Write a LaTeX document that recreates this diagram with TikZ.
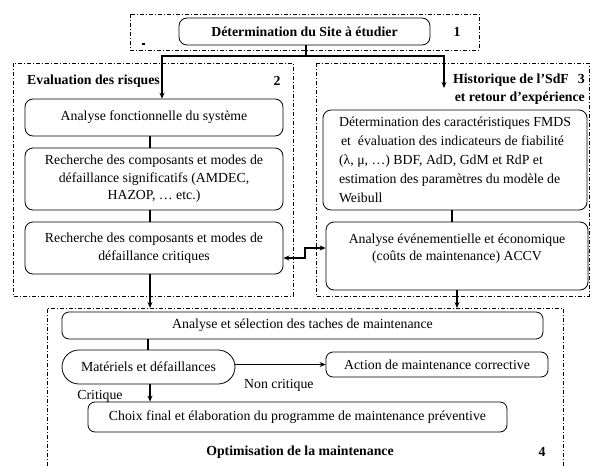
\documentclass[tikz,border=0pt]{standalone}
\usepackage{fontspec}
\setmainfont{Liberation Serif}
\usetikzlibrary{arrows.meta,calc}
\begin{document}
\begin{tikzpicture}[x=1pt,y=-1pt,
  every node/.style={font=\fontsize{13.8}{17.5}\selectfont, inner sep=0pt},
  box/.style={draw, line width=0.8pt, rounded corners=8pt, align=center},
  zone/.style={line width=0.8pt, dash pattern=on 4pt off 2pt on 1pt off 2pt},
  conn/.style={line width=1.2pt},
  arr/.style={conn, -{Stealth[length=6pt,width=5pt]}},
  darr/.style={conn, {Stealth[length=6pt,width=5pt]}-{Stealth[length=6pt,width=5pt]}},
  lbl/.style={font=\bfseries\fontsize{13.8}{17.5}\selectfont}]
\useasboundingbox (0,0) rectangle (592,466);

% zones
\draw[zone] (130,14) rectangle (479,50);
\draw[zone] (13,63) rectangle (293,296);
\draw[zone] (316,63) rectangle (589,296);
\draw[zone] (47,466) -- (47,308) -- (563,308) -- (563,466);

% zone 1
\node[box, lbl, minimum width=251pt, minimum height=27pt] (T) at (304.5,31.5) {Détermination du Site à étudier};
\node[lbl] (n1) at (457,32) {1};
\fill (142,43) rectangle (145,44.5);

% zone 2
\node[lbl, anchor=west] (t2) at (27,81) {Evaluation des risques};
\node[lbl] (n2) at (277,81) {2};
\node[box, minimum width=258pt, minimum height=37pt] (L1) at (154,117.5) {Analyse fonctionnelle du système};
\node[box, minimum width=258pt, minimum height=62pt] (L2) at (154,179) {Recherche des composants et modes de\\défaillance significatifs (AMDEC,\\HAZOP, … etc.)};
\node[box, minimum width=258pt, minimum height=52pt] (L3) at (154,248) {Recherche des composants et modes de\\défaillance critiques};

% zone 3
\node[lbl, anchor=east] (t3a) at (585,80) {Historique de l’SdF\hspace{9pt}3};
\node[lbl, anchor=east] (t3b) at (585,98) {et retour d’expérience};
\node[box, align=left, font=\fontsize{13.8}{19}\selectfont, minimum width=264pt, minimum height=100pt] (R1) at (455,160) {Détermination des caractéristiques FMDS\\\hspace{2pt}et\ \ évaluation des indicateurs de fiabilité\\(λ, μ, …) BDF, AdD, GdM et RdP et\\estimation des paramètres du modèle de\\Weibull};
\node[box, minimum width=262pt, minimum height=68pt] (R2) at (457,256) {};
\node[align=center] (R2t) at (457,248.5) {Analyse événementielle et économique\\(coûts de maintenance) ACCV};

% zone 4
\node[box, rounded corners=7pt, minimum width=481pt, minimum height=27pt] (A1) at (302.5,325.5) {Analyse et sélection des taches de maintenance};
\node[box, rounded corners=17pt, minimum width=173pt, minimum height=34pt] (M) at (148.5,367) {Matériels et défaillances};
\node[box, rounded corners=7pt, minimum width=222pt, minimum height=25pt] (AC) at (437,364.5) {Action de maintenance corrective};
\node[anchor=west] (nc) at (244,385) {Non critique};
\node[box, rounded corners=7pt, minimum width=419pt, minimum height=30pt] (C) at (297.5,417) {Choix final et élaboration du programme de maintenance préventive};
\node (cr) at (100,396) {Critique};
\node[lbl] (t4) at (300,452) {Optimisation de la maintenance};
\node[lbl] (n4) at (542,452) {4};

% connectors
\coordinate (fork) at (306,56);
\coordinate (xl) at (162,0);
\coordinate (ar) at (444,88);
\draw[conn] (T.south -| fork) -- (fork);
\draw[arr] (fork) -| (L1.north -| xl);
\draw[arr] (fork) -| (ar);
\coordinate (cx) at (150,0);
\draw[conn] (L1.south -| cx) -- (L2.north -| cx);
\draw[conn] (L2.south -| cx) -- (L3.north -| cx);
\coordinate (b4) at (47,308);
\draw[arr] (L3.south -| cx) -- (cx |- b4);
\coordinate (cr1) at (452,0);
\draw[conn] (R1.south -| cr1) -- (R2.north -| cr1);
\coordinate (cx2) at (457,0);
\draw[arr] (R2.south -| cx2) -- (cx2 |- b4);
\coordinate (mid) at (305,253);
\draw[darr] ($(L3.east)+(0,10)$) -| (mid) |- ($(R2.west)+(0,-8)$);
\coordinate (cm) at (148,0);
\draw[conn] (A1.south -| cm) -- (M.north -| cm);
\draw[arr] (M.east |- AC.west) -- (AC.west);
\coordinate (cm2) at (150,0);
\draw[arr] (M.south -| cm2) -- (C.north -| cm2);
\end{tikzpicture}
\end{document}
